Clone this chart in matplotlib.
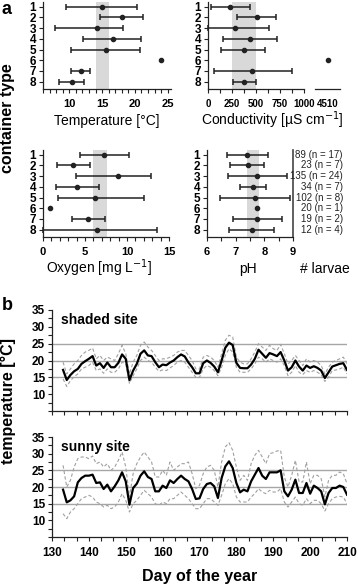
import matplotlib.pyplot as plt
from matplotlib.ticker import MultipleLocator
import numpy as np

plt.rcParams['font.family'] = ['Liberation Sans', 'DejaVu Sans']

# ---- panel a: per container type (min / mean / max) ----
containers = [1, 2, 3, 4, 5, 6, 7, 8]

temp_min = [9.5, 14.7, 7.8, 12.1, 10.3, np.nan, 10.3, 8.5]
temp_mean = [15.0, 18.0, 14.2, 16.6, 15.6, 24.0, 11.8, 10.4]
temp_max = [20.3, 21.3, 18.2, 21.0, 20.8, np.nan, 13.1, 12.3]

cond_min = [30, 300, 0, 155, 140, np.nan, 60, 260]
cond_mean = [230, 510, 280, 440, 370, 4510, 460, 380]
cond_max = [440, 710, 640, 715, 590, np.nan, 870, 500]

oxy_min = [4.4, 1.7, 3.9, 1.5, 1.8, np.nan, 3.5, 0.0]
oxy_mean = [7.3, 3.6, 8.9, 4.1, 6.2, 0.8, 5.4, 6.4]
oxy_max = [10.2, 5.6, 12.9, 6.7, 12.0, np.nan, 7.4, 13.6]

ph_min = [6.7, 6.8, 6.73, 7.16, 6.47, np.nan, 6.9, 6.77]
ph_mean = [7.4, 7.43, 7.76, 7.62, 7.66, 7.74, 7.74, 7.57]
ph_max = [8.13, 8.0, 8.78, 8.07, 8.88, np.nan, 8.6, 8.33]

larvae = ['89 (n = 17)', '23 (n = 7)', '135 (n = 24)', '34 (n = 7)',
          '102 (n = 8)', '20 (n = 1)', '19 (n = 2)', '12 (n = 4)']

# shaded optimum ranges
temp_band = (14, 16)
cond_band = (250, 500)
oxy_band = (5.9, 7.6)
ph_band = (7.4, 7.8)

# ---- panel b: daily water temperature ----
days = np.arange(133, 211)

shaded_mean = [17.2, 14.2, 15.7, 16.8, 17.5, 19.0, 19.8, 20.5, 21.3, 18.5,
               19.2, 17.8, 19.4, 18.0, 18.0, 19.3, 21.8, 20.5, 14.2, 17.0,
               19.0, 22.0, 23.0, 21.5, 21.3, 19.5, 18.0, 18.8, 18.6, 19.4,
               20.0, 21.0, 21.8, 21.2, 19.4, 18.0, 16.2, 16.2, 19.2, 20.0,
               19.3, 18.2, 16.5, 20.0, 23.8, 25.3, 24.6, 19.3, 17.8, 17.7,
               17.7, 18.8, 20.5, 23.2, 22.0, 20.8, 22.2, 21.8, 21.3, 22.5,
               20.0, 17.0, 18.0, 20.0, 18.2, 17.0, 18.5, 17.8, 18.3, 17.8,
               17.0, 14.8, 16.5, 18.2, 18.6, 19.0, 19.2, 17.2]
shaded_max = [19.5, 16.0, 17.5, 19.0, 20.0, 21.5, 22.5, 23.0, 23.7, 20.5,
              21.5, 20.0, 21.0, 20.5, 20.0, 22.0, 24.5, 22.0, 16.0, 19.5,
              21.5, 24.5, 25.5, 24.0, 23.0, 21.5, 20.0, 20.5, 20.5, 21.0,
              21.5, 22.5, 23.0, 23.0, 21.5, 20.0, 17.5, 17.5, 21.0, 21.5,
              21.0, 20.0, 18.0, 22.0, 26.0, 27.5, 27.0, 21.0, 19.5, 19.0,
              19.0, 20.5, 22.5, 25.0, 24.0, 23.0, 24.5, 23.5, 23.0, 24.8,
              22.0, 19.0, 20.0, 21.5, 20.0, 18.5, 20.5, 19.5, 20.0, 19.5,
              18.5, 16.0, 18.0, 19.5, 20.0, 20.5, 21.0, 19.0]
shaded_min = [14.5, 12.3, 14.0, 15.2, 16.0, 17.5, 18.0, 18.5, 19.5, 17.0,
              17.5, 16.2, 17.5, 16.5, 16.5, 17.5, 19.5, 19.0, 13.2, 15.5,
              17.5, 20.0, 21.0, 20.0, 19.5, 18.0, 16.8, 17.2, 17.0, 17.8,
              18.5, 19.5, 20.0, 19.5, 18.0, 16.5, 15.0, 15.0, 17.5, 18.5,
              18.0, 17.0, 15.5, 18.0, 21.5, 23.5, 22.5, 18.0, 16.5, 16.5,
              16.5, 17.5, 19.0, 21.0, 20.5, 19.5, 20.5, 20.0, 19.5, 20.5,
              18.5, 15.5, 16.5, 18.5, 16.5, 15.8, 17.0, 16.5, 17.0, 16.5,
              15.8, 13.8, 15.0, 17.0, 17.2, 17.5, 18.0, 16.0]

sunny_mean = [19.2, 15.4, 16.0, 17.2, 21.4, 22.7, 23.4, 23.4, 23.7, 21.2,
              21.4, 19.4, 20.7, 18.7, 20.2, 22.0, 24.4, 21.7, 14.7, 19.7,
              21.0, 23.4, 24.7, 23.0, 22.4, 18.7, 18.7, 20.4, 19.7, 22.0,
              21.2, 22.4, 23.4, 22.4, 21.7, 19.4, 16.4, 16.6, 19.4, 20.9,
              21.2, 20.2, 16.7, 22.7, 26.2, 27.7, 25.7, 21.2, 18.4, 19.2,
              18.7, 21.7, 23.7, 25.7, 23.4, 22.4, 24.4, 24.4, 24.4, 25.0,
              18.7, 17.2, 19.2, 22.2, 18.2, 18.2, 21.2, 18.0, 20.4, 19.7,
              18.7, 14.8, 18.2, 19.7, 19.7, 20.4, 20.0, 17.7]
sunny_max = [26.5, 20.0, 22.0, 26.0, 28.5, 29.0, 29.0, 28.5, 29.3, 27.0,
             27.5, 26.0, 27.0, 25.0, 26.0, 28.0, 30.5, 26.0, 17.0, 24.0,
             27.0, 29.0, 30.5, 29.0, 27.5, 23.0, 23.0, 25.0, 23.5, 27.5,
             25.0, 26.0, 27.0, 27.0, 27.5, 24.0, 19.5, 20.5, 24.0, 26.0,
             26.5, 25.0, 20.0, 27.5, 32.0, 33.3, 31.0, 26.0, 22.0, 23.5,
             22.0, 27.0, 29.5, 31.0, 29.0, 27.0, 30.0, 30.3, 30.8, 31.0,
             23.0, 20.0, 23.5, 28.0, 21.5, 21.5, 27.5, 21.0, 23.5, 23.5,
             22.5, 17.0, 22.0, 23.5, 23.5, 24.5, 24.0, 21.0]
sunny_min = [12.0, 10.5, 12.5, 13.5, 15.0, 16.5, 17.0, 17.5, 17.0, 15.5,
             15.0, 14.0, 14.5, 13.5, 14.0, 15.5, 18.0, 16.0, 12.5, 15.0,
             16.0, 17.5, 19.0, 18.0, 17.0, 15.0, 14.5, 15.5, 15.0, 16.5,
             16.5, 17.5, 18.5, 17.5, 16.5, 15.0, 13.5, 13.5, 15.0, 16.5,
             16.5, 15.5, 14.5, 17.5, 21.0, 22.5, 21.0, 17.0, 15.5, 15.5,
             15.5, 17.0, 18.0, 19.5, 18.5, 18.0, 19.0, 18.5, 18.5, 19.5,
             15.5, 14.0, 15.5, 17.0, 15.0, 14.5, 16.5, 15.0, 16.0, 16.0,
             15.0, 12.8, 15.0, 16.5, 17.0, 17.2, 17.0, 15.0]

W, H = 358, 586
fig = plt.figure(figsize=(W / 100, H / 100), dpi=100)

DARK = '#222222'
BAND = '#d9d9d9'


def px_axes(x0, y0, x1, y1):
    return fig.add_axes([x0 / W, 1 - y1 / H, (x1 - x0) / W, (y1 - y0) / H])


def px_text(x, y, s, **kw):
    fig.text(x / W, 1 - y / H, s, **kw)


def style_axes(ax, xsize=8, ysize=8.5):
    for side in ('top', 'right'):
        ax.spines[side].set_visible(False)
    for side in ('left', 'bottom'):
        ax.spines[side].set_color(DARK)
        ax.spines[side].set_linewidth(0.9)
    ax.tick_params(which='both', direction='out', length=3, width=0.8,
                   color=DARK, pad=2)
    ax.tick_params(axis='x', labelsize=xsize, pad=4.5)
    ax.tick_params(axis='y', labelsize=ysize)
    for lab in ax.get_xticklabels() + ax.get_yticklabels():
        lab.set_fontweight('bold')


def range_panel(ax, lo, mean, hi, band, xlim):
    ax.axvspan(band[0], band[1], color=BAND, lw=0, zorder=0)
    lo, mean, hi = np.array(lo), np.array(mean), np.array(hi)
    y = np.array(containers)
    ok = ~np.isnan(lo)
    ax.errorbar(mean[ok], y[ok], xerr=[mean[ok] - lo[ok], hi[ok] - mean[ok]],
                fmt='o', ms=3, color=DARK, ecolor=DARK, elinewidth=1.1,
                capsize=2.5, capthick=1.1, clip_on=False, zorder=3)
    ax.plot(mean[~ok], y[~ok], 'o', ms=3, color=DARK, clip_on=False, zorder=3)
    ax.set_xlim(*xlim)
    ax.set_ylim(8.7, 0.55)
    ax.set_yticks(containers)


# Temperature
ax_t = px_axes(43, 2, 171, 89)
range_panel(ax_t, temp_min, temp_mean, temp_max, temp_band, (6, 25.5))
ax_t.set_xticks([10, 15, 20, 25])
ax_t.xaxis.set_minor_locator(MultipleLocator(1))
style_axes(ax_t)

# Conductivity (broken axis)
ax_c = px_axes(208, 2, 304, 89)
cm = np.array(cond_mean, dtype=float)
cl, ch = np.array(cond_min), np.array(cond_max)
ok = ~np.isnan(cl)
yc = np.array(containers)
ax_c.axvspan(*cond_band, color=BAND, lw=0, zorder=0)
ax_c.errorbar(cm[ok], yc[ok], xerr=[cm[ok] - cl[ok], ch[ok] - cm[ok]],
              fmt='o', ms=3, color=DARK, ecolor=DARK, elinewidth=1.1,
              capsize=2.5, capthick=1.1, clip_on=False, zorder=3)
ax_c.set_xlim(0, 1000)
ax_c.set_ylim(8.7, 0.55)
ax_c.set_yticks(containers)
ax_c.xaxis.set_major_locator(MultipleLocator(250))
ax_c.xaxis.set_minor_locator(MultipleLocator(125))
style_axes(ax_c, xsize=7)

ax_cb = px_axes(315, 2, 340, 89)
ax_cb.plot(cm[~ok], yc[~ok], 'o', ms=3, color=DARK, clip_on=False)
ax_cb.set_xlim(4400, 4620)
ax_cb.set_ylim(8.7, 0.55)
ax_cb.set_yticks([])
ax_cb.set_xticks([4510])
style_axes(ax_cb, xsize=7)
ax_cb.spines['left'].set_visible(False)
ax_cb.tick_params(axis='x', length=0, pad=7.5)

# Oxygen
ax_o = px_axes(43, 150, 169, 237)
range_panel(ax_o, oxy_min, oxy_mean, oxy_max, oxy_band, (0, 15))
ax_o.set_xticks([0, 5, 10, 15])
ax_o.xaxis.set_minor_locator(MultipleLocator(1))
style_axes(ax_o)

# pH + larvae column
ax_p = px_axes(207, 150, 293, 237)
range_panel(ax_p, ph_min, ph_mean, ph_max, ph_band, (6, 9))
ax_p.set_xticks([6, 7, 8, 9])
ax_p.xaxis.set_minor_locator(MultipleLocator(0.5))
style_axes(ax_p)
ax_p.spines['right'].set_visible(True)
ax_p.spines['right'].set_color('#444444')
ax_p.spines['right'].set_linewidth(1.2)
for c, s in zip(containers, larvae):
    ax_p.text(10.74, c, s, ha='right', va='center', fontsize=7,
              color=DARK, clip_on=False)

# panel a labels
px_text(107, 121, 'Temperature [°C]', ha='center', va='center', fontsize=10)
px_text(272, 120, 'Conductivity [µS cm$^{-1}$]', ha='center', va='center',
        fontsize=10)
px_text(99, 268, 'Oxygen [mg L$^{-1}$]', ha='center', va='center', fontsize=10)
px_text(248, 269, 'pH', ha='center', va='center', fontsize=10)
px_text(325, 269, '# larvae', ha='center', va='center', fontsize=10)
px_text(8, 118, 'container type', rotation=90, ha='center', va='center',
        fontsize=11.5, fontweight='bold')
px_text(2, 1, 'a', ha='left', va='top', fontsize=13, fontweight='bold')


# ---- panel b ----
def temp_panel(y0, y1, mean, lo, hi, title, show_x):
    ax = px_axes(52, y0, 347, y1)
    for g in (15, 20, 25):
        ax.axhline(g, color='#a6a6a6', lw=1, zorder=0)
    ax.plot(days, hi, color='#a0a0a0', lw=0.8, ls=(0, (3, 2)))
    ax.plot(days, lo, color='#a0a0a0', lw=0.8, ls=(0, (3, 2)))
    ax.plot(days, mean, color='black', lw=1.6)
    ax.set_xlim(130, 210)
    ax.set_ylim(5, 35)
    ax.set_yticks([10, 15, 20, 25, 30, 35])
    ax.yaxis.set_minor_locator(MultipleLocator(2.5))
    ax.set_xticks(range(130, 211, 10))
    ax.xaxis.set_minor_locator(MultipleLocator(10 / 3))
    if not show_x:
        ax.set_xticklabels([])
    style_axes(ax, xsize=8.5, ysize=8.5)
    ax.text(0.03, 0.97, title, transform=ax.transAxes, ha='left', va='top',
            fontsize=10, fontweight='bold')
    return ax


temp_panel(310, 411, shaded_mean, shaded_min, shaded_max, 'shaded site', False)
temp_panel(437, 537, sunny_mean, sunny_min, sunny_max, 'sunny site', True)

px_text(200, 577, 'Day of the year', ha='center', va='center', fontsize=11.5,
        fontweight='bold')
px_text(8, 401, 'temperature [°C]', rotation=90, ha='center', va='center',
        fontsize=11.5, fontweight='bold')
px_text(2, 297, 'b', ha='left', va='top', fontsize=13, fontweight='bold')

fig.savefig('out.png', dpi=100)
